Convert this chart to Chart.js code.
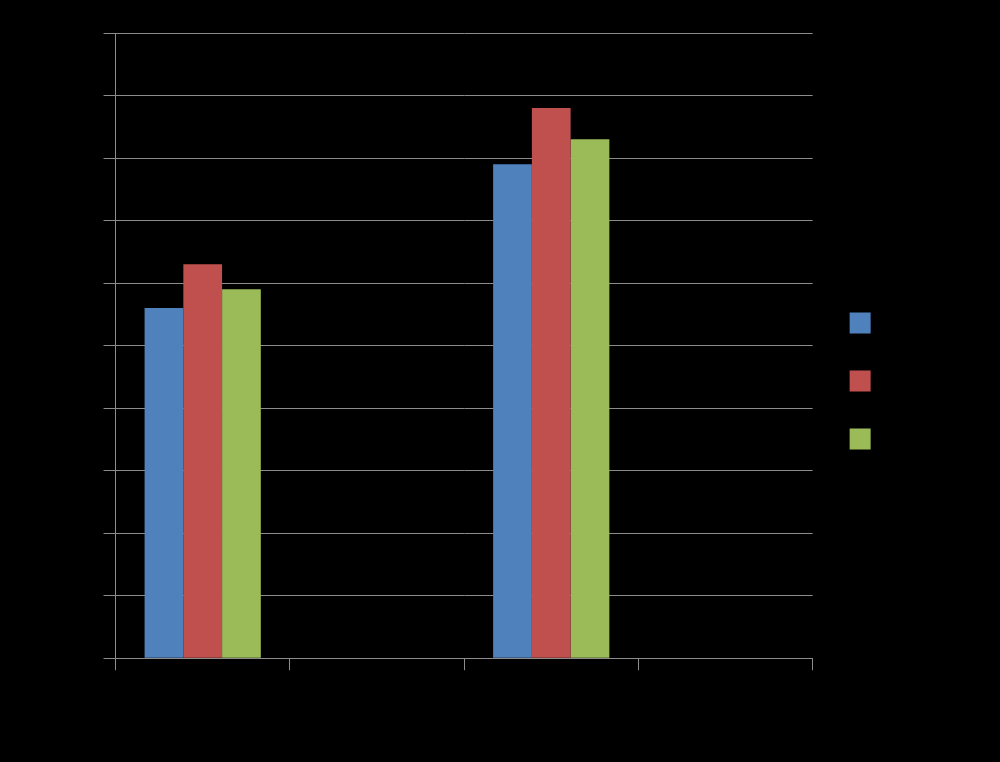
<!DOCTYPE html>
<html>
<head>
<meta charset="utf-8">
<script src="https://cdn.jsdelivr.net/npm/chart.js@4"></script>
<style>
  html, body { margin: 0; padding: 0; background: #000; }
  #chartBox { width: 1000px; height: 762px; }
</style>
</head>
<body>
<div id="chartBox"><canvas id="BarChart" width="1000" height="762"></canvas></div>
<script>
const categories = ["Category 1", "Category 2", "Category 3", "Category 4"];
const seriesNames = ["Series 1", "Series 2", "Series 3"];
const series1 = [5.6, null, 7.9, null];
const series2 = [6.3, null, 8.8, null];
const series3 = [5.9, null, 8.3, null];
const yTicks = [0, 1, 2, 3, 4, 5, 6, 7, 8, 9, 10];

const barColors = ["#4f81bd", "#c0504d", "#9bbb59"];
const gridColor = "#8c8c8c";
const textColor = "#000000";

const chartBg = {
  id: "chartBg",
  beforeDraw(chart) {
    const ctx = chart.ctx;
    ctx.save();
    ctx.fillStyle = "#000";
    ctx.fillRect(0, 0, chart.width, chart.height);
    ctx.restore();
  },
};

new Chart(document.querySelector("#BarChart"), {
  type: "bar",
  data: {
    labels: categories,
    datasets: [series1, series2, series3].map((values, i) => ({
      label: seriesNames[i],
      data: values,
      backgroundColor: barColors[i],
      borderWidth: 0,
      categoryPercentage: 0.667,
      barPercentage: 1,
    })),
  },
  options: {
    responsive: false,
    animation: false,
    layout: { padding: { left: 82, top: 33, right: 61, bottom: 33 } },
    plugins: {
      tooltip: { enabled: false },
      legend: {
        position: "right",
        labels: {
          boxWidth: 21,
          boxHeight: 21,
          padding: 37,
          color: textColor,
          font: { family: "Liberation Sans", size: 14 },
        },
      },
    },
    scales: {
      x: {
        offset: true,
        grid: {
          offset: true,
          drawOnChartArea: false,
          tickLength: 12,
          color: gridColor,
        },
        border: { color: gridColor },
        ticks: {
          color: textColor,
          padding: 21,
          font: { family: "Liberation Sans", size: 14 },
        },
      },
      y: {
        min: 0,
        max: 10,
        afterBuildTicks(axis) {
          axis.ticks = yTicks.map((v) => ({ value: v }));
        },
        grid: { color: gridColor, tickLength: 12 },
        border: { color: gridColor },
        ticks: { color: textColor, font: { family: "Liberation Sans", size: 14 } },
      },
    },
  },
  plugins: [chartBg],
});
</script>
</body>
</html>
